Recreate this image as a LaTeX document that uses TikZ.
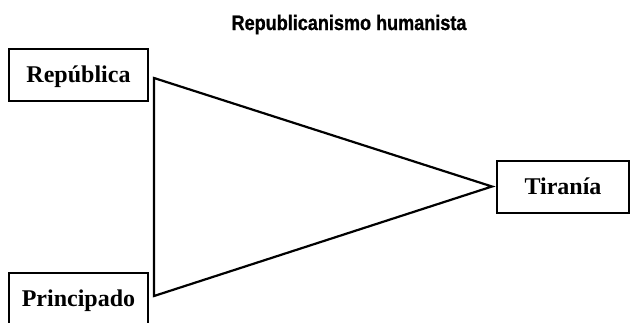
\documentclass[tikz,border=0pt]{standalone}
\usepackage{fontspec}
\setmainfont{Liberation Serif}
\newfontfamily\titlefont[FakeStretch=0.86,FakeBold=1]{Liberation Sans}
\usetikzlibrary{calc}
\begin{document}
\begin{tikzpicture}[x=1pt,y=1pt,
  boxnode/.style={draw=black,line width=2pt,minimum width=139pt,minimum height=52pt,
    inner sep=0pt,text height=20pt,text depth=4.6pt,font=\fontsize{24}{26}\selectfont\bfseries},
  triline/.style={draw=black,line width=2.2pt,line join=miter}]
\useasboundingbox (0,0) rectangle (631,-322);
\clip (0,0) rectangle (631,-322);
\node[anchor=base,font=\titlefont\fontsize{21}{23}\selectfont\bfseries] (title) at (349,-30) {Republicanismo humanista};
\node[boxnode] (rep) at (78.5,-75) {República};
\node[boxnode] (pri) at (78.5,-299) {Principado};
\node[boxnode,minimum width=132pt] (tir) at (563,-186.5) {Tiranía};
\coordinate (a) at ($(rep.east)+(5,-3)$);
\coordinate (b) at ($(tir.west)+(-4,0)$);
\coordinate (c) at ($(pri.east)+(5,3)$);
\draw[triline] (a) -- (b) -- (c) -- cycle;
\end{tikzpicture}
\end{document}
